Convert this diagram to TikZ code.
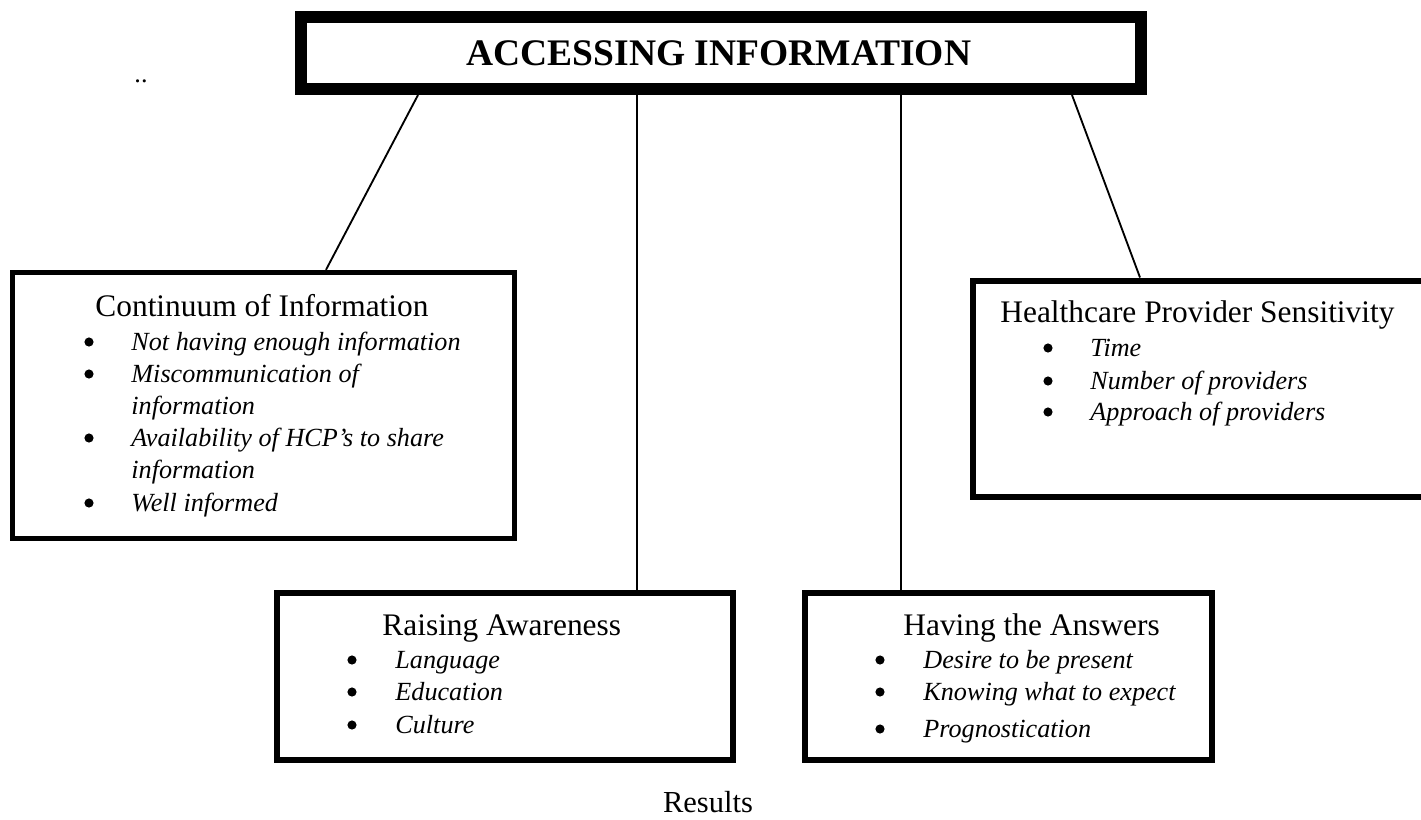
\documentclass[tikz,border=0pt]{standalone}
\usepackage{fontspec}
\setmainfont{Liberation Serif}
\usetikzlibrary{fit}
\tikzset{
  catbox/.style={draw, line width=2.5pt, inner sep=0pt},
  head/.style={anchor=base west, inner sep=0pt, font=\fontsize{14.4}{17}\selectfont},
  sub/.style={anchor=base west, inner sep=0pt, font=\fontsize{12}{14}\selectfont\itshape},
  dot/.style={circle, fill, inner sep=0pt, minimum size=4.2pt},
  link/.style={line width=0.85pt}
}

\begin{document}
\begin{tikzpicture}[x=0.4587pt, y=-0.4587pt]
  \useasboundingbox (0,0) rectangle (1421,819);
  \clip (0,0) rectangle (1421,819);
  % boxes
  \node[catbox, line width=5.5pt, fit={(301,17) (1141,89)}] (top) {};
  \node[catbox, fit={(12.5,272.5) (514.5,538.5)}] (cont) {};
  \node[catbox, line width=2.75pt, fit={(973,280.5) (1460,497)}] (health) {};
  \node[catbox, fit={(277,593) (733,760)}] (raise) {};
  \node[catbox, fit={(805,593) (1212,760)}] (have) {};
  % links
  \draw[link] (top.south -| 418,0) -- (cont.north -| 326,0);
  \draw[link] (top.south -| 637,0) -- (raise.north -| 637,0);
  \draw[link] (top.south -| 901,0) -- (have.north -| 901,0);
  \draw[link] (top.south -| 1072,0) -- (health.north -| 1140,0);
  % texts
  \node[anchor=base, inner sep=0pt, font=\fontsize{17.2}{20}\selectfont\bfseries] (title) at (719,65) {ACCESSING INFORMATION};
  \node[anchor=base, inner sep=0pt, font=\fontsize{12}{14}\selectfont] (dots) at (141,82) {..};
  \node[head] (cont-head) at (95,316) {Continuum of Information};
  \foreach \y/\t in {350/Not having enough information, 382/Miscommunication of, 414/information,
                     446/Availability of HCP’s to share, 478/information, 511/Well informed}
    \node[sub] (cont-\y) at (131,\y) {\t};
  \foreach \y in {350,382,446,511}
    \node[dot] (cont-dot-\y) at (89,\y-8) {};
  \node[head] (health-head) at (1000,322) {Healthcare Provider Sensitivity};
  \foreach \y/\t in {356/Time, 389/Number of providers, 420/Approach of providers} {
    \node[dot] (health-dot-\y) at (1048,\y-8) {};
    \node[sub] (health-\y) at (1090,\y) {\t};
  }
  \node[head] (raise-head) at (382,635) {Raising Awareness};
  \foreach \y/\t in {668/Language, 700/Education, 733/Culture} {
    \node[dot] (raise-dot-\y) at (352,\y-8) {};
    \node[sub] (raise-\y) at (395,\y) {\t};
  }
  \node[head] (have-head) at (903,635) {Having the Answers};
  \foreach \y/\t in {668/Desire to be present, 700/Knowing what to expect, 737/Prognostication} {
    \node[dot] (have-dot-\y) at (880,\y-8) {};
    \node[sub] (have-\y) at (923,\y) {\t};
  }
  \node[anchor=base, inner sep=0pt, font=\fontsize{14}{17}\selectfont] (results) at (708,812) {Results};
\end{tikzpicture}
\end{document}
